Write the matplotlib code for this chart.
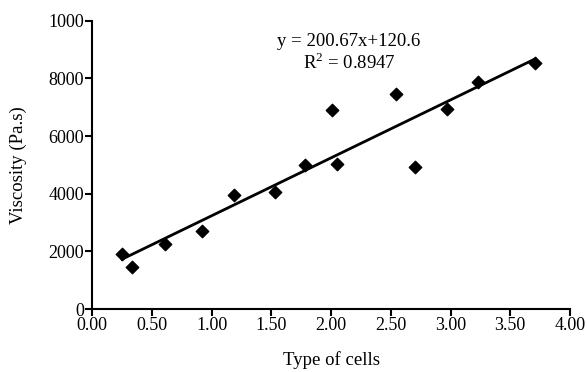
import numpy as np
import matplotlib.pyplot as plt

plt.rcParams['font.family'] = ['Liberation Serif', 'DejaVu Serif']
plt.rcParams['mathtext.fontset'] = 'custom'
plt.rcParams['mathtext.rm'] = 'Liberation Serif'

# values
cell_type = [0.25, 0.33, 0.61, 0.92, 1.19, 1.53, 1.78, 2.01, 2.05, 2.54, 2.70, 2.97, 3.23, 3.71]
viscosity = [1900, 1450, 2260, 2710, 3970, 4070, 5010, 6910, 5045, 7455, 4940, 6955, 7880, 8530]
x_ticks = [0, 0.5, 1, 1.5, 2, 2.5, 3, 3.5, 4]
y_ticks = [0, 2000, 4000, 6000, 8000, 10000]
y_tick_labels = ['0', '2000', '4000', '6000', '8000', '1000']

fig = plt.figure(figsize=(5.87, 3.72), dpi=100)
ax = fig.add_axes([0.157, 0.169, 0.814, 0.775])

ax.scatter(cell_type, viscosity, marker='D', s=40, color='black', zorder=3)

slope, icpt = np.polyfit(cell_type, viscosity, 1)
xl = np.array([min(cell_type), max(cell_type)])
ax.plot(xl, slope * xl + icpt, color='black', lw=2)

ax.set_xlim(0, 4)
ax.set_ylim(0, 10000)
ax.set_xticks(x_ticks)
ax.set_xticklabels([f'{v:.2f}' for v in x_ticks])
ax.set_yticks(y_ticks)
ax.set_yticklabels(y_tick_labels)
ax.tick_params(direction='out', length=5, width=1.5, labelsize=13, pad=1)

for s in ['top', 'right']:
    ax.spines[s].set_visible(False)
for s in ['left', 'bottom']:
    ax.spines[s].set_linewidth(1.5)

ax.set_xlabel('Type of cells', fontsize=13.5, labelpad=12)
ax.set_ylabel('Viscosity (Pa.s)', fontsize=13.5, labelpad=15)

ax.text(2.15, 9300, 'y = 200.67x+120.6', fontsize=13.5, ha='center', va='center')
ax.text(2.15, 8560, r'R$^{\mathrm{2}}$ = 0.8947', fontsize=13.5, ha='center', va='center')

fig.savefig('out.png', dpi=100)
